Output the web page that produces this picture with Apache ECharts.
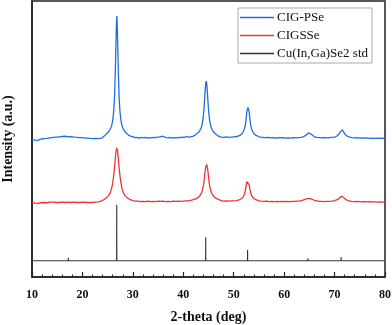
<!DOCTYPE html>
<html><head><meta charset="utf-8">
<script src="https://cdn.jsdelivr.net/npm/echarts@6/dist/echarts.min.js"></script>
<style>html,body{margin:0;padding:0;background:#fff}#c{width:392px;height:325px}</style>
</head><body><div id="c"></div>
<script>
// 2-theta ticks
const xTicks = [10, 20, 30, 40, 50, 60, 70, 80];
const seriesNames = ['CIG-PSe', 'CIGSSe', 'Cu(In,Ga)Se2 std'];

// CIG-PSe (blue) pattern, [2theta, intensity offset a.u.]
const cigPSe = [
[10.0,49.8],[10.3,50.4],[10.6,49.6],[10.9,50.3],[11.2,49.5],[11.5,50.2],[11.8,50.0],[12.1,50.6],[12.4,50.1],[12.7,50.5],
[13.0,50.2],[13.3,50.8],[13.6,50.4],[13.9,50.9],[14.2,50.6],[14.5,51.1],[14.8,50.7],[15.1,51.2],[15.4,50.8],[15.7,51.3],
[16.0,50.9],[16.3,51.4],[16.6,51.0],[16.9,51.2],[17.2,50.8],[17.5,51.3],[17.8,50.9],[18.1,51.1],[18.4,50.7],[18.7,51.0],
[19.0,50.6],[19.3,50.9],[19.6,50.5],[19.9,50.8],[20.2,50.4],[20.5,50.7],[20.8,50.3],[21.1,50.6],[21.4,50.2],[21.7,50.5],
[22.0,50.1],[22.3,50.5],[22.6,50.2],[22.9,50.4],[23.2,50.1],[23.5,50.5],[23.8,50.3],[24.1,50.7],[24.5,51.4],[24.82,52.0],
[25.32,52.9],[25.62,54.0],[25.82,55.0],[26.02,56.9],[26.22,60.4],[26.37,65.4],[26.52,74.4],[26.62,82.4],[26.72,90.4],[26.82,94.6],
[26.92,90.4],[27.02,82.4],[27.12,74.4],[27.27,65.4],[27.42,60.4],[27.62,56.9],[27.82,55.0],[28.02,54.0],[28.32,52.9],[28.82,51.9],
[29.3,51.2],[29.7,50.9],[30.1,50.8],[30.5,50.5],[30.9,50.6],[31.3,50.3],[31.7,50.6],[32.1,50.4],[32.5,50.6],
[32.9,50.3],[33.3,50.5],[33.7,50.4],[34.1,50.6],[34.5,50.5],[34.9,50.7],[35.3,50.8],[35.6,51.2],[35.9,51.0],[36.2,50.6],
[36.6,50.5],[37.0,50.4],[37.4,50.6],[37.8,50.3],[38.2,50.5],[38.6,50.4],[39.0,50.6],[39.4,50.5],[39.8,50.7],[40.2,50.6],
[40.6,50.9],[41.0,50.7],[41.4,50.8],[41.8,50.9],[42.2,51.2],[42.55,51.6],[43.15,52.6],[43.55,54.0],[43.75,55.4],[43.95,57.8],
[44.1,60.8],[44.25,64.8],[44.35,67.8],[44.45,70.1],[44.55,71.0],[44.65,70.1],[44.75,67.8],[44.85,64.8],[45.0,60.8],[45.15,57.8],
[45.35,55.4],[45.55,54.0],[45.95,52.6],[46.55,51.6],[47.0,51.0],[47.5,50.7],[48.0,50.6],[48.5,50.8],[49.0,50.6],[49.5,50.7],
[50.0,50.8],[50.6,50.9],[51.23,51.3],[51.73,52.1],[52.03,53.2],[52.23,54.5],[52.38,56.1],[52.53,58.7],[52.68,60.6],[52.83,61.4],
[52.98,60.6],[53.13,58.7],[53.28,56.1],[53.43,54.5],[53.63,53.2],[53.93,52.1],[54.43,51.3],[54.9,50.9],[55.3,50.7],[55.8,50.6],
[56.3,50.5],[56.8,50.6],[57.3,50.4],[57.8,50.5],[58.3,50.3],[58.8,50.5],[59.3,50.4],[59.8,50.5],[60.3,50.3],[60.8,50.4],
[61.3,50.3],[61.8,50.5],[62.3,50.4],[62.8,50.5],[63.3,50.6],[63.8,50.8],[64.2,51.2],[64.5,51.7],[64.8,52.2],[65.0,52.2],
[65.3,51.8],[65.6,51.2],[66.0,50.8],[66.5,50.6],[67.0,50.5],[67.5,50.4],[68.0,50.5],[68.5,50.4],[69.0,50.5],[69.5,50.6],
[70.0,50.7],[70.4,51.0],[70.8,51.6],[71.1,52.5],[71.35,53.2],[71.55,53.3],[71.8,52.6],[72.1,51.6],[72.5,51.0],[73.0,50.7],
[73.5,50.5],[74.0,50.4],[74.5,50.5],[75.0,50.3],[75.5,50.4],[76.0,50.3],[76.5,50.4],[77.0,50.2],[77.5,50.3],[78.0,50.2],
[78.5,50.3],[79.0,50.2],[79.5,50.3],[80.0,50.2]
];

// CIGSSe (red) pattern
const cigsse = [
[10.0,27.0],[10.3,27.5],[10.6,26.8],[10.9,27.4],[11.2,26.7],[11.5,27.3],[11.8,26.9],[12.1,27.5],[12.4,27.0],[12.7,27.4],
[13.0,26.9],[13.3,27.5],[13.6,27.1],[13.9,27.6],[14.2,27.1],[14.5,27.5],[14.8,27.0],[15.1,27.4],[15.4,27.0],[15.7,27.5],
[16.0,27.1],[16.3,27.4],[16.6,27.0],[16.9,27.5],[17.2,27.1],[17.5,27.4],[17.8,27.0],[18.1,27.5],[18.4,27.1],[18.7,27.4],
[19.0,27.0],[19.3,27.3],[19.6,27.0],[19.9,27.4],[20.2,27.1],[20.5,27.3],[20.8,27.0],[21.1,27.2],[21.4,27.0],[21.7,27.3],
[22.0,27.0],[22.3,27.2],[22.6,27.1],[22.9,27.3],[23.2,27.2],[23.5,27.4],[23.8,27.6],[24.2,28.0],[24.62,28.5],[25.12,29.3],
[25.52,30.5],[25.82,32.3],[26.02,34.3],[26.22,37.1],[26.37,39.7],[26.52,42.9],[26.67,45.7],[26.82,46.8],[26.97,45.7],[27.12,42.9],
[27.27,39.7],[27.42,37.1],[27.62,34.3],[27.82,32.3],[28.12,30.5],[28.52,29.3],[29.02,28.5],[29.5,28.0],[30.0,27.7],[30.5,27.5],
[31.0,27.5],[31.5,27.3],[32.0,27.4],[32.5,27.3],[33.0,27.5],[33.5,27.3],[34.0,27.4],[34.5,27.3],[35.0,27.5],[35.5,27.4],
[36.0,27.5],[36.5,27.3],[37.0,27.4],[37.5,27.3],[38.0,27.5],[38.5,27.4],[39.0,27.5],[39.5,27.4],[40.0,27.5],[40.5,27.6],
[41.0,27.6],[41.5,27.8],[42.0,28.0],[42.6,28.4],[43.2,29.2],[43.6,30.4],[43.8,31.5],[44.0,33.1],[44.15,35.2],[44.3,37.8],
[44.45,39.9],[44.62,40.8],[44.77,39.9],[44.92,37.8],[45.07,35.2],[45.22,33.1],[45.42,31.5],[45.62,30.4],[46.02,29.2],[46.62,28.4],
[47.0,28.0],[47.5,27.7],[48.0,27.5],[48.5,27.6],[49.0,27.5],[49.5,27.6],[50.0,27.6],[50.6,27.7],[51.2,28.0],[51.7,28.6],
[52.0,29.4],[52.2,30.4],[52.33,31.6],[52.48,33.3],[52.63,34.6],[52.78,35.2],[52.93,34.6],[53.08,33.3],[53.23,31.6],[53.38,30.4],
[53.58,29.4],[53.88,28.6],[54.38,28.0],[54.9,27.7],[55.4,27.5],[56.1,27.4],[56.6,27.5],[57.1,27.3],[57.6,27.4],[58.1,27.3],
[58.6,27.4],[59.1,27.3],[59.6,27.4],[60.1,27.3],[60.6,27.4],[61.1,27.3],[61.6,27.4],[62.1,27.4],[62.6,27.5],[63.1,27.6],
[63.6,27.8],[64.1,28.1],[64.6,28.4],[64.9,28.5],[65.2,28.4],[65.6,28.1],[66.0,27.8],[66.5,27.6],[67.0,27.4],[67.5,27.4],
[68.0,27.3],[68.5,27.4],[69.0,27.4],[69.5,27.5],[70.0,27.7],[70.5,28.0],[70.9,28.5],[71.2,29.0],[71.45,29.3],[71.7,29.0],
[72.0,28.4],[72.4,27.9],[72.9,27.6],[73.4,27.4],[74.0,27.3],[74.5,27.4],[75.0,27.3],[75.5,27.2],[76.0,27.3],[76.5,27.2],
[77.0,27.3],[77.5,27.2],[78.0,27.2],[78.5,27.1],[79.0,27.2],[79.5,27.1],[80.0,27.1]
];

// Cu(In,Ga)Se2 standard reflections
const stdBase = 5.9;
const stdTheta = [17.2, 26.8, 27.9, 35.8, 42.1, 44.45, 52.75, 64.7, 71.3];
const stdI     = [7.0, 26.1, 6.6, 6.6, 6.2, 14.4, 9.8, 6.8, 7.2];

// build stick pattern from the reflection arrays
const stdData = [[10, stdBase]];
stdTheta.forEach((t, i) => {
  stdData.push([t - 0.02, stdBase], [t, stdI[i]], [t + 0.02, stdBase]);
});
stdData.push([80, stdBase]);

const serif = '"Liberation Serif","Times New Roman",serif';
const chart = echarts.init(document.getElementById('c'), null, {renderer: 'canvas'});
chart.setOption({
  animation: false,
  backgroundColor: '#fff',
  grid: {left: 32, right: 7, top: 1, bottom: 48, containLabel: false, outerBoundsMode: 'none',
         show: true, borderColor: '#222', borderWidth: 1.5},
  legend: {
    data: seriesNames,
    orient: 'vertical',
    left: 238, top: 8,
    padding: [3, 4, 3, 2],
    itemGap: 5,
    icon: 'rect',
    itemWidth: 34, itemHeight: 1.6,
    borderColor: '#aaa', borderWidth: 1,
    textStyle: {fontFamily: serif, fontSize: 13, color: '#111', padding: [0, 0, 0, -2]}
  },
  xAxis: {
    type: 'value', min: xTicks[0], max: xTicks[xTicks.length - 1], interval: 10,
    name: '2-theta (deg)', nameLocation: 'middle', nameGap: 33,
    nameTextStyle: {fontFamily: serif, fontSize: 14, fontWeight: 'bold', color: '#111'},
    axisLine: {lineStyle: {color: '#222', width: 1.5}},
    axisTick: {inside: true, length: 5, lineStyle: {color: '#222', width: 1.2}},
    minorTick: {show: true, splitNumber: 5, length: 2.5, lineStyle: {color: '#222', width: 1}},
    axisLabel: {fontFamily: serif, fontSize: 12, fontWeight: 'bold', color: '#111', margin: 12},
    splitLine: {show: false}
  },
  yAxis: {
    type: 'value', min: 0, max: 100,
    name: 'Intensity (a.u.)', nameLocation: 'middle', nameGap: 17, nameRotate: 90,
    nameTextStyle: {fontFamily: serif, fontSize: 14, fontWeight: 'bold', color: '#111'},
    axisLine: {show: true, lineStyle: {color: '#222', width: 1.5}},
    axisTick: {show: false}, axisLabel: {show: false}, splitLine: {show: false}
  },
  series: [
    {name: seriesNames[0], type: 'line', data: cigPSe, symbol: 'none', lineStyle: {color: '#1f6fe0', width: 1.3}, itemStyle: {color: '#1f6fe0'}},
    {name: seriesNames[1], type: 'line', data: cigsse, symbol: 'none', lineStyle: {color: '#ee3535', width: 1.3}, itemStyle: {color: '#ee3535'}},
    {name: seriesNames[2], type: 'line', data: stdData, symbol: 'none', lineStyle: {color: '#333', width: 1.1}, itemStyle: {color: '#333'}}
  ]
});
</script></body></html>
